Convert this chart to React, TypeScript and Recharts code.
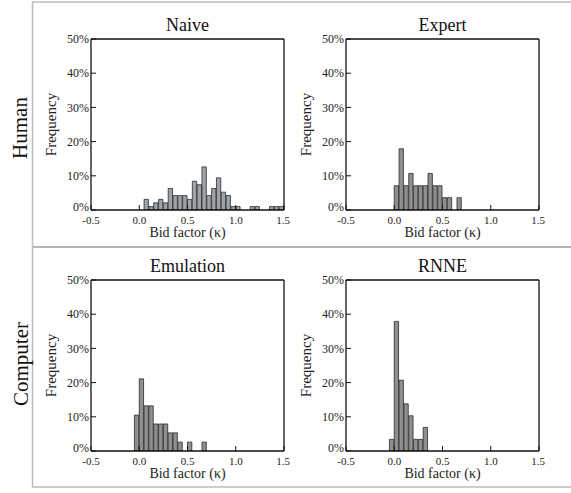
import { BarChart, Bar, XAxis, YAxis } from 'recharts'

const BIN = 0.05

// frequencies (%) per bin of width 0.05, starting at the given bin edge
const naiveStart = 0.05
const naiveFreq = [3.1, 1.0, 2.1, 3.1, 2.1, 6.3, 4.2, 4.2, 4.2, 3.1, 8.4, 7.4, 12.6, 4.2, 6.3, 9.4, 5.2, 4.2, 1.0, 1.0, 0, 0, 1.0, 1.0, 0, 0, 1.0, 1.0, 1.0]

const expertStart = 0.0
const expertFreq = [7.1, 17.9, 7.1, 10.7, 7.1, 7.1, 7.1, 10.7, 7.1, 7.1, 3.6, 3.6, 0, 3.6]

const emulationStart = -0.05
const emulationFreq = [10.5, 21.1, 13.2, 13.2, 7.9, 7.9, 7.9, 5.3, 5.3, 2.6, 0, 2.6, 0, 0, 2.6]

const rnneStart = -0.05
const rnneFreq = [3.4, 37.9, 20.7, 13.8, 10.3, 3.4, 3.4, 6.9]

const xTicks = [-0.5, 0, 0.5, 1.0, 1.5]
const yTicks = [0, 10, 20, 30, 40, 50]

const FONT = "'Liberation Serif', 'Times New Roman', serif"
const PLOT_W = 193
const PLOT_H = 171

function toRows(start: number, freq: number[]) {
  return freq.map((f, i) => ({ k: +(start + i * BIN + BIN / 2).toFixed(3), f }))
}

// y tick label; the 0% one sits a little higher, clear of the -0.5 label
function YTick({ x, y, payload }: any) {
  const lift = payload.value === 0 ? 3 : 0
  return (
    <text x={x} y={y - lift} dy="0.35em" textAnchor="end" fontSize={12} fill="#222" fontFamily={FONT}>
      {`${payload.value}%`}
    </text>
  )
}

interface PanelProps {
  title: string
  start: number
  freq: number[]
  fill: string
  left: number
  top: number
}

function Panel({ title, start, freq, fill, left, top }: PanelProps) {
  const data = toRows(start, freq)
  return (
    <div style={{ position: 'absolute', left, top }}>
      <BarChart
        width={51 + PLOT_W + 6}
        height={30 + PLOT_H + 32}
        data={data}
        margin={{ top: 29, right: 5, bottom: 0, left: 0 }}
        barCategoryGap={0}
        barGap={0}
        style={{ fontFamily: FONT }}
      >
        <XAxis
          dataKey="k"
          type="number"
          domain={[-0.5, 1.5]}
          ticks={xTicks}
          tickFormatter={(v) => Number(v).toFixed(1)}
          height={32}
          tickSize={-5}
          tickMargin={11}
          tick={{ fontSize: 11, fill: '#222' }}
          axisLine={{ stroke: '#111', strokeWidth: 1.3 }}
          tickLine={{ stroke: '#111' }}
          allowDataOverflow
          label={{ value: 'Bid factor (\u03ba)', position: 'insideBottom', offset: 5, fontSize: 14, fill: '#222' }}
        />
        <XAxis
          xAxisId="top"
          orientation="top"
          type="number"
          domain={[-0.5, 1.5]}
          ticks={xTicks}
          height={1}
          tick={false}
          tickSize={-5}
          axisLine={{ stroke: '#111', strokeWidth: 1.3 }}
          tickLine={{ stroke: '#111' }}
          label={{ value: title, position: 'top', offset: 7, fontSize: 18, fill: '#111' }}
        />
        <YAxis
          domain={[0, 50]}
          ticks={yTicks}
          width={51}
          tickSize={-5}
          tickMargin={7}
          tick={<YTick />}
          axisLine={{ stroke: '#111', strokeWidth: 1.3 }}
          tickLine={{ stroke: '#111' }}
          allowDataOverflow
          label={{ value: 'Frequency', angle: -90, position: 'insideLeft', offset: 11, fontSize: 15, fill: '#222', style: { textAnchor: 'middle' } }}
        />
        <YAxis
          yAxisId="right"
          orientation="right"
          domain={[0, 50]}
          ticks={yTicks}
          width={1}
          tick={false}
          tickSize={-5}
          axisLine={{ stroke: '#111', strokeWidth: 1.3 }}
          tickLine={{ stroke: '#111' }}
        />
        <Bar
          dataKey="f"
          fill={fill}
          stroke="#2b2b2b"
          strokeWidth={0.8}
          barSize={(PLOT_W * BIN) / 2}
          isAnimationActive={false}
        />
      </BarChart>
    </div>
  )
}

export default function App() {
  return (
    <div style={{ position: 'absolute', left: 0, top: 0, width: 571, height: 493, background: '#fff', fontFamily: FONT }}>
      <style>{`.recharts-wrapper text, .recharts-text { font-family: ${FONT}; }`}</style>
      <svg width={571} height={493} style={{ position: 'absolute', left: 0, top: 0 }}>
        <line x1={32} y1={2} x2={571} y2={2} stroke="#bdbdbd" strokeWidth={1.5} />
        <line x1={32} y1={247} x2={571} y2={247} stroke="#b5b5b5" strokeWidth={2} />
        <line x1={32} y1={487} x2={571} y2={487} stroke="#bdbdbd" strokeWidth={1.5} />
        <line x1={32.5} y1={2} x2={32.5} y2={487} stroke="#bdbdbd" strokeWidth={1.5} />
        <text transform="translate(27,128) rotate(-90)" textAnchor="middle" fontSize={21} fill="#111" fontFamily={FONT}>
          Human
        </text>
        <text transform="translate(28,364) rotate(-90)" textAnchor="middle" fontSize={21} fill="#111" fontFamily={FONT}>
          Computer
        </text>
      </svg>
      <Panel title="Naive" start={naiveStart} freq={naiveFreq} fill="#9ea3aa" left={40} top={9} />
      <Panel title="Expert" start={expertStart} freq={expertFreq} fill="#8f8f8f" left={295} top={9} />
      <Panel title="Emulation" start={emulationStart} freq={emulationFreq} fill="#8f8f8f" left={40} top={250} />
      <Panel title="RNNE" start={rnneStart} freq={rnneFreq} fill="#8f8f8f" left={295} top={250} />
    </div>
  )
}
